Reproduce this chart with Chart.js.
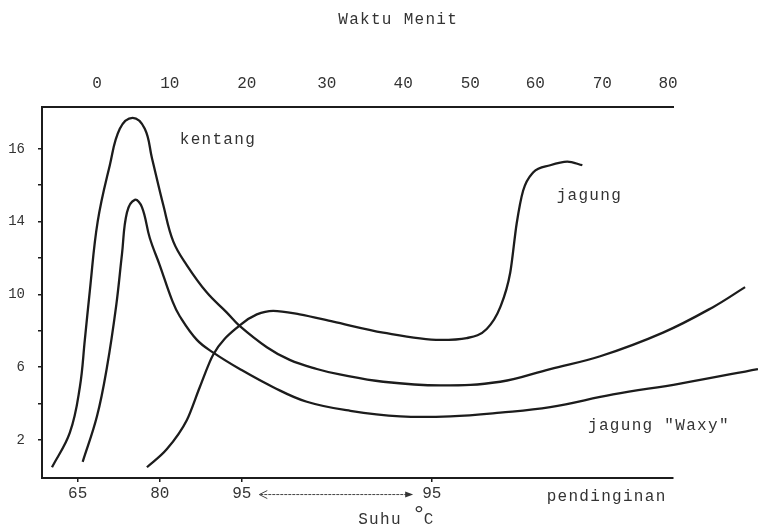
<!DOCTYPE html>
<html>
<head>
<meta charset="utf-8">
<script src="https://cdn.jsdelivr.net/npm/chart.js@4"></script>
<style>
  html, body { margin: 0; background: #fff; }
</style>
</head>
<body>
<canvas id="chart" width="758" height="526"></canvas>
<script>
// Viskositas pati selama pemanasan dan pendinginan (diagram hasil scan)

// x = waktu (menit), y = skala sumbu kiri
const kentangX = [-6.3, -3.8, -2.4, -1.7, -1.0, 0.1, 1.8, 3.2, 5.0, 6.7, 7.7, 9.3, 10.7, 12.6, 15.4, 18.2, 19.9, 23.8, 27.0, 30.8, 34.0, 40.1, 48.1, 56.5, 63.5, 70.5, 79.3, 86.3, 90.8];
const kentangY = [0.5, 2.4, 4.9, 7.5, 10.2, 14.0, 17.1, 19.1, 19.7, 19.1, 17.5, 14.9, 12.9, 11.6, 10.1, 9.0, 8.3, 7.1, 6.4, 5.9, 5.6, 5.2, 5.0, 5.2, 5.9, 6.6, 7.9, 9.3, 10.4];

const waxyX = [-2.0, 0.0, 1.4, 2.7, 3.5, 4.2, 5.3, 6.3, 7.4, 8.8, 10.6, 11.6, 14.0, 16.3, 20.0, 24.7, 29.4, 35.5, 42.5, 49.5, 56.5, 63.5, 72.3, 81.7, 92.6];
const waxyY = [0.8, 3.3, 6.0, 9.4, 12.2, 14.5, 15.2, 14.8, 13.1, 11.6, 9.6, 8.8, 7.5, 6.8, 5.9, 4.9, 4.1, 3.6, 3.3, 3.3, 3.5, 3.8, 4.5, 5.1, 5.9];

const jagungX = [7.0, 9.8, 12.6, 14.4, 16.3, 20.0, 22.4, 24.7, 28.4, 33.1, 40.1, 48.1, 51.8, 54.6, 56.5, 57.9, 58.8, 59.7, 61.1, 63.5, 65.9, 68.0];
const jagungY = [0.5, 1.5, 3.1, 4.9, 6.7, 8.3, 8.9, 9.1, 8.9, 8.5, 7.9, 7.5, 7.6, 8.1, 9.3, 11.2, 13.9, 15.7, 16.7, 17.1, 17.3, 17.1];

// sumbu atas: waktu (skala gambar tangan, jarak label tidak rata)
const waktuTicks = [0, 10.2, 21.0, 32.2, 42.9, 52.3, 61.4, 70.8, 80.0];
const waktuLabels = ['0', '10', '20', '30', '40', '50', '60', '70', '80'];

// sumbu bawah: suhu
const suhuTicks = [-2.7, 8.8, 20.3, 46.9];
const suhuLabels = ['65', '80', '95', '95'];

// sumbu kiri
const yTicks = [2, 4, 6, 8, 10, 12, 14, 16, 18];
const yLabels = ['2', '', '6', '', '10', '', '14', '', '16'];

const X_MIN = -7.7;
const X_MAX = 80.7;

const INK = '#1c1c1c';
const TEXT = '#333333';
const MONO = '"Liberation Mono", "DejaVu Sans Mono", monospace';

const notes = [
  { text: 'kentang', x: 11.6, y: 18.5 },
  { text: 'jagung', x: 64.4, y: 15.4 },
  { text: 'jagung "Waxy"', x: 68.8, y: 2.8 },
  { text: 'pendinginan', x: 63.0, y: -1.1 },
];

function toPoints(xs, ys) {
  return xs.map((x, i) => ({ x, y: ys[i] }));
}

function curve(label, xs, ys, smooth) {
  const ds = {
    label,
    data: toPoints(xs, ys),
    borderColor: INK,
    borderWidth: 2.3,
    pointRadius: 0,
    fill: false,
    clip: false,
  };
  if (smooth) ds.tension = 0.4;
  else ds.cubicInterpolationMode = 'monotone';
  return ds;
}

function fixRange(scale) {
  scale.min = X_MIN;
  scale.max = X_MAX;
}

// --- teks dan panah di luar sumbu ---

const notesPlugin = {
  id: 'notes',
  afterDraw(chart) {
    const { ctx } = chart;
    const xs = chart.scales.x;
    const ys = chart.scales.y;
    ctx.save();
    ctx.fillStyle = TEXT;
    ctx.textBaseline = 'middle';
    ctx.font = '16px ' + MONO;
    ctx.letterSpacing = '1.3px';

    for (const n of notes) {
      ctx.textAlign = 'left';
      ctx.fillText(n.text, xs.getPixelForValue(n.x), ys.getPixelForValue(n.y));
    }

    // judul atas
    ctx.textAlign = 'center';
    ctx.fillText('Waktu Menit', xs.getPixelForValue(42.2), ys.getPixelForValue(25.1));

    // Suhu °C
    ctx.textAlign = 'left';
    const sx = xs.getPixelForValue(36.6);
    const sy = ys.getPixelForValue(-2.4);
    ctx.fillText('Suhu', sx, sy);
    const w = ctx.measureText('Suhu ').width;
    ctx.font = '24px ' + MONO;
    ctx.fillText('°', sx + w - 1, sy - 4);
    ctx.font = '16px ' + MONO;
    ctx.fillText('C', sx + w + 11, sy);
    ctx.letterSpacing = '0px';

    // panah antara 95 dan 95
    const ay = ys.getPixelForValue(-1.0);
    const a0 = xs.getPixelForValue(22.6);
    const a1 = xs.getPixelForValue(44.3);
    ctx.strokeStyle = '#444';
    ctx.lineWidth = 1;
    ctx.setLineDash([3, 1]);
    ctx.beginPath();
    ctx.moveTo(a0 + 2, ay);
    ctx.lineTo(a1 - 6, ay);
    ctx.stroke();
    ctx.setLineDash([]);
    ctx.beginPath();
    ctx.moveTo(a0 + 9, ay - 4);
    ctx.lineTo(a0 + 1, ay);
    ctx.lineTo(a0 + 9, ay + 4);
    ctx.stroke();
    ctx.fillStyle = '#333';
    ctx.beginPath();
    ctx.moveTo(a1, ay);
    ctx.lineTo(a1 - 8, ay - 3);
    ctx.lineTo(a1 - 8, ay + 3);
    ctx.closePath();
    ctx.fill();
    ctx.restore();
  },
};

const tickFont = { family: MONO, size: 16 };

new Chart(document.getElementById('chart'), {
  type: 'line',
  data: {
    datasets: [
      curve('kentang', kentangX, kentangY, true),
      curve('jagung "Waxy"', waxyX, waxyY, true),
      curve('jagung', jagungX, jagungY, false),
    ],
  },
  options: {
    responsive: false,
    animation: false,
    events: [],
    layout: { padding: { top: 0, right: 85, bottom: 0, left: 0 } },
    plugins: {
      legend: { display: false },
      tooltip: { enabled: false },
    },
    scales: {
      x: {
        type: 'linear',
        position: 'bottom',
        bounds: 'data',
        afterDataLimits: fixRange,
        afterBuildTicks: s => { s.ticks = suhuTicks.map(v => ({ value: v })); },
        afterFit: s => { s.height = 48; },
        ticks: {
          callback: (v, i) => suhuLabels[i],
          font: tickFont, color: TEXT, padding: 2,
          autoSkip: false, maxRotation: 0,
        },
        grid: { drawOnChartArea: false, tickLength: 4, color: INK, lineWidth: 1.5 },
        border: { color: INK, width: 2 },
      },
      xTop: {
        type: 'linear',
        position: 'top',
        bounds: 'data',
        afterDataLimits: fixRange,
        afterBuildTicks: s => { s.ticks = waktuTicks.map(v => ({ value: v })); },
        afterFit: s => { s.height = 107; },
        ticks: {
          callback: (v, i) => waktuLabels[i],
          font: tickFont, color: TEXT, padding: 14,
          autoSkip: false, maxRotation: 0,
        },
        grid: { drawOnChartArea: false, drawTicks: false },
        border: { color: INK, width: 2 },
      },
      y: {
        type: 'linear',
        min: -0.09,
        max: 20.3,
        afterBuildTicks: s => { s.ticks = yTicks.map(v => ({ value: v })); },
        afterFit: s => { s.width = 42; },
        ticks: {
          callback: (v, i) => yLabels[i],
          font: { family: MONO, size: 14 }, color: TEXT, padding: 13,
          autoSkip: false,
        },
        grid: { drawOnChartArea: false, tickLength: 4, color: INK, lineWidth: 1.5 },
        border: { color: INK, width: 2 },
      },
    },
  },
  plugins: [notesPlugin],
});
</script>
</body>
</html>
